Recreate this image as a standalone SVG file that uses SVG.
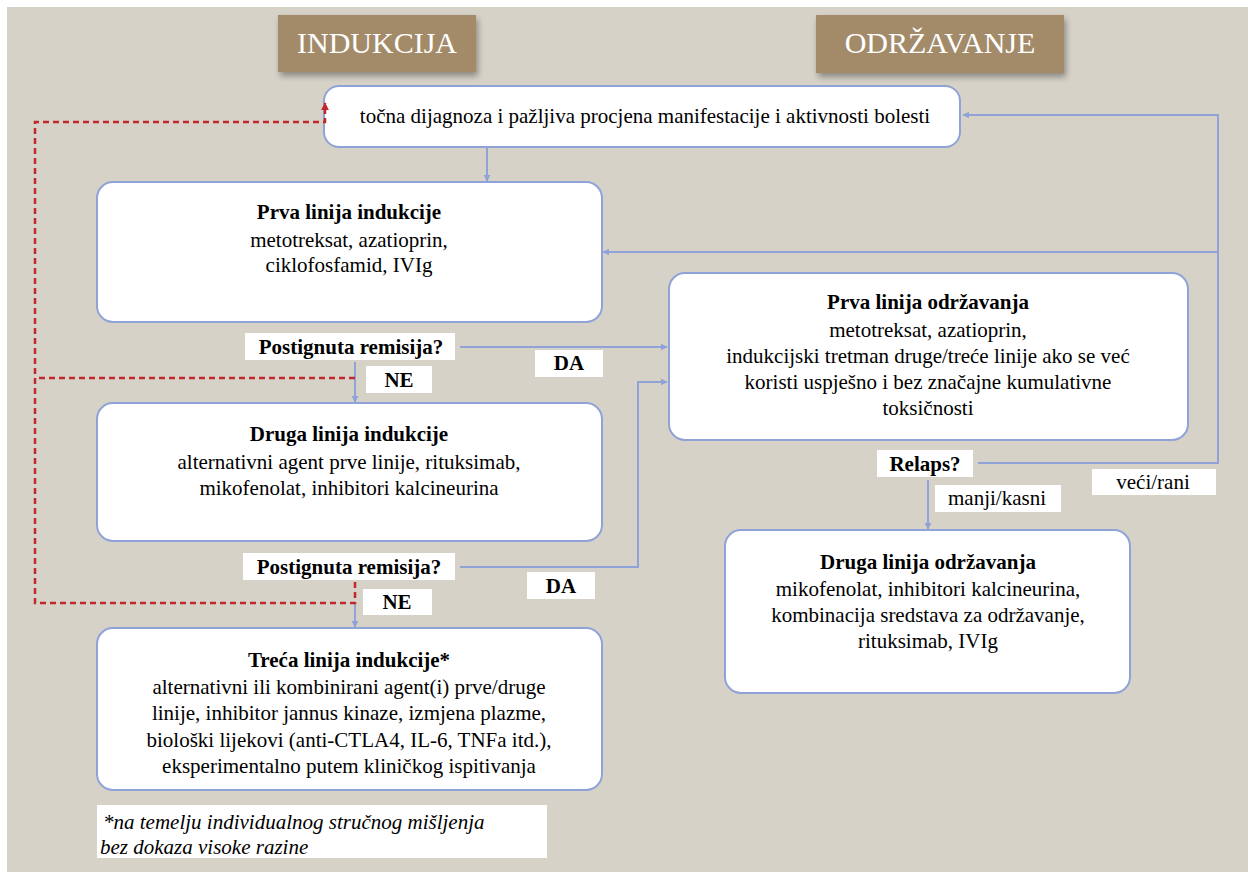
<svg xmlns="http://www.w3.org/2000/svg" width="1248" height="872" viewBox="0 0 1248 872">
<defs>
<style>
.bg{fill:#d6d2c8}
.hdr{fill:#a38b6a}
.hdrt{font-size:30px;fill:#ffffff;text-anchor:middle}
.box{fill:#ffffff;stroke:#8fa3d8;stroke-width:2}
.t{font-size:21px;fill:#000;text-anchor:middle}
.b{font-weight:bold}
.lab{fill:#ffffff}
.lt{font-size:21px;fill:#000}
.conn{fill:none;stroke:#8fa3d8;stroke-width:2}
.red{fill:none;stroke:#c0292b;stroke-width:2.5;stroke-dasharray:6 4}
.it{font-size:21px;font-style:italic;fill:#000}
</style>
<marker id="ab" viewBox="0 0 10 10" refX="9" refY="5" markerWidth="7" markerHeight="7" markerUnits="userSpaceOnUse" orient="auto"><path d="M0,0 L10,5 L0,10 z" fill="#8fa3d8"/></marker>
<marker id="ar" viewBox="0 0 10 10" refX="9" refY="5" markerWidth="8" markerHeight="8" markerUnits="userSpaceOnUse" orient="auto"><path d="M0,0 L10,5 L0,10 z" fill="#c0292b"/></marker>
<filter id="sh" x="-10%" y="-10%" width="130%" height="140%"><feDropShadow dx="2" dy="4" stdDeviation="3" flood-color="#000" flood-opacity="0.35"/></filter>
</defs>
<rect x="0" y="0" width="1248" height="872" fill="#ffffff"/>
<rect class="bg" x="7" y="7" width="1241" height="865"/>
<g font-family="'Liberation Serif', 'Times New Roman', Tinos, 'DejaVu Serif', serif">

<g id="hdr-indukcija">
<rect class="hdr" x="278" y="15" width="198" height="57" filter="url(#sh)"/>
<text class="hdrt" x="377" y="53">INDUKCIJA</text>
</g>
<g id="hdr-odrzavanje">
<rect class="hdr" x="816" y="15" width="248" height="58" filter="url(#sh)"/>
<text class="hdrt" x="940" y="53">ODRŽAVANJE</text>
</g>

<g id="n-dijagnoza">
<rect class="box" x="324" y="86" width="636" height="61" rx="15"/>
<text class="t" x="645" y="123">točna dijagnoza i pažljiva procjena manifestacije i aktivnosti bolesti</text>
</g>

<g id="n-prva-indukcija">
<rect class="box" x="97" y="182" width="505" height="140" rx="16"/>
<text class="t b" x="349" y="219">Prva linija indukcije</text>
<text class="t" x="349" y="247">metotreksat, azatioprin,</text>
<text class="t" x="349" y="272">ciklofosfamid, IVIg</text>
</g>

<g id="l-remisija1">
<rect class="lab" x="245" y="333" width="210" height="27"/>
<text class="lt b" x="351" y="354" text-anchor="middle">Postignuta remisija?</text>
</g>
<g id="l-da1">
<rect class="lab" x="535" y="350" width="68" height="27"/>
<text class="lt b" x="569" y="370" text-anchor="middle">DA</text>
</g>
<g id="l-ne1">
<rect class="lab" x="366" y="366" width="66" height="27"/>
<text class="lt b" x="399" y="387" text-anchor="middle">NE</text>
</g>

<g id="n-druga-indukcija">
<rect class="box" x="97" y="403" width="505" height="138" rx="16"/>
<text class="t b" x="349" y="441">Druga linija indukcije</text>
<text class="t" x="349" y="469">alternativni agent prve linije, rituksimab,</text>
<text class="t" x="349" y="495">mikofenolat, inhibitori kalcineurina</text>
</g>

<g id="l-remisija2">
<rect class="lab" x="243" y="553" width="212" height="27"/>
<text class="lt b" x="349" y="574" text-anchor="middle">Postignuta remisija?</text>
</g>
<g id="l-da2">
<rect class="lab" x="527" y="572" width="68" height="27"/>
<text class="lt b" x="561" y="593" text-anchor="middle">DA</text>
</g>
<g id="l-ne2">
<rect class="lab" x="363" y="589" width="69" height="26"/>
<text class="lt b" x="397" y="609" text-anchor="middle">NE</text>
</g>

<g id="n-treca-indukcija">
<rect class="box" x="97" y="628" width="505" height="162" rx="16"/>
<text class="t b" x="349" y="667">Treća linija indukcije*</text>
<text class="t" x="349" y="694">alternativni ili kombinirani agent(i) prve/druge</text>
<text class="t" x="349" y="720">linije, inhibitor jannus kinaze, izmjena plazme,</text>
<text class="t" x="349" y="747">biološki lijekovi (anti-CTLA4, IL-6, TNFa itd.),</text>
<text class="t" x="349" y="773">eksperimentalno putem kliničkog ispitivanja</text>
</g>

<g id="footnote">
<rect class="lab" x="97" y="805" width="450" height="53"/>
<text class="it" x="103" y="829">*na temelju individualnog stručnog mišljenja</text>
<text class="it" x="100" y="854">bez dokaza visoke razine</text>
</g>

<g id="n-prva-odrzavanja">
<rect class="box" x="669" y="273" width="519" height="167" rx="16"/>
<text class="t b" x="928" y="309">Prva linija održavanja</text>
<text class="t" x="928" y="337">metotreksat, azatioprin,</text>
<text class="t" x="928" y="363">indukcijski tretman druge/treće linije ako se već</text>
<text class="t" x="928" y="389">koristi uspješno i bez značajne kumulativne</text>
<text class="t" x="928" y="415">toksičnosti</text>
</g>

<g id="l-relaps">
<rect class="lab" x="877" y="450" width="96" height="27"/>
<text class="lt b" x="925" y="471" text-anchor="middle">Relaps?</text>
</g>
<g id="l-veci">
<rect class="lab" x="1092" y="469" width="124" height="26"/>
<text class="lt" x="1153" y="489" text-anchor="middle">veći/rani</text>
</g>
<g id="l-manji">
<rect class="lab" x="935" y="485" width="126" height="27"/>
<text class="lt" x="997" y="505" text-anchor="middle">manji/kasni</text>
</g>

<g id="n-druga-odrzavanja">
<rect class="box" x="725" y="530" width="405" height="163" rx="16"/>
<text class="t b" x="928" y="569">Druga linija održavanja</text>
<text class="t" x="928" y="596">mikofenolat, inhibitori kalcineurina,</text>
<text class="t" x="928" y="622">kombinacija sredstava za održavanje,</text>
<text class="t" x="928" y="648">rituksimab, IVIg</text>
</g>
</g>

<g id="connectors">
<line class="conn" x1="487" y1="148" x2="487" y2="181" marker-end="url(#ab)"/>
<line class="conn" x1="460" y1="347" x2="667" y2="347" marker-end="url(#ab)"/>
<line class="conn" x1="355" y1="362" x2="355" y2="402" marker-end="url(#ab)"/>
<polyline class="conn" points="460,567 638,567 638,382 667,382" marker-end="url(#ab)"/>
<line class="conn" x1="355" y1="603" x2="355" y2="627" marker-end="url(#ab)"/>
<polyline class="conn" points="978,463 1218,463 1218,115 963,115" marker-end="url(#ab)"/>
<line class="conn" x1="1218" y1="252" x2="603" y2="252" marker-end="url(#ab)"/>
<line class="conn" x1="928" y1="480" x2="928" y2="529" marker-end="url(#ab)"/>
<polyline class="red" points="355,378 35,378"/>
<polyline class="red" points="355,582 355,603 35,603 35,122 325,122 325,103" marker-end="url(#ar)"/>
</g>
</svg>
